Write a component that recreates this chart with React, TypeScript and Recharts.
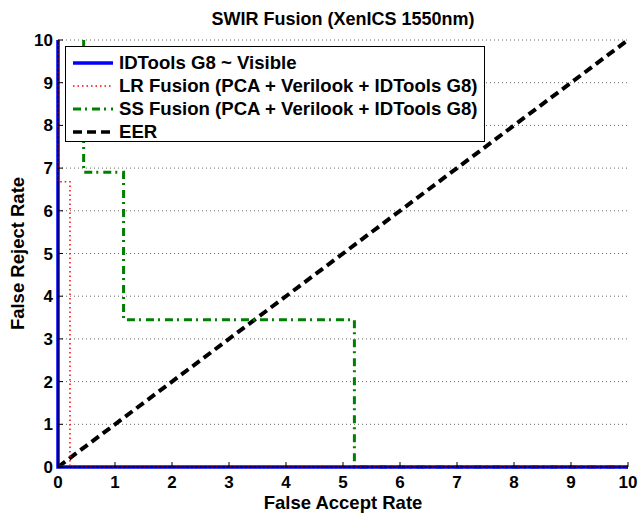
import React from "react";
import { LineChart, Line, XAxis, YAxis, CartesianGrid } from "recharts";

const ticks = [0, 1, 2, 3, 4, 5, 6, 7, 8, 9, 10];

const idtoolsVisible = [
  { x: 0, y: 10 },
  { x: 0, y: 0 },
  { x: 10, y: 0 },
];

const lrFusion = [
  { x: 0, y: 10 },
  { x: 0, y: 6.68 },
  { x: 0.21, y: 6.68 },
  { x: 0.21, y: 0 },
  { x: 10, y: 0 },
];

const ssFusion = [
  { x: 0.45, y: 10 },
  { x: 0.45, y: 6.9 },
  { x: 1.15, y: 6.9 },
  { x: 1.15, y: 3.45 },
  { x: 5.2, y: 3.45 },
  { x: 5.2, y: 0 },
  { x: 10, y: 0 },
];

const eer = [
  { x: 0, y: 0 },
  { x: 10, y: 10 },
];

const FONT = "'Liberation Sans', Arial, sans-serif";

const legendItems = [
  { name: "IDTools G8 ~ Visible", color: "#0000ff", width: 3.5, dash: undefined },
  { name: "LR Fusion (PCA + Verilook + IDTools G8)", color: "#ff0000", width: 1.5, dash: "1.5 3" },
  { name: "SS Fusion (PCA + Verilook + IDTools G8)", color: "#008000", width: 3, dash: "8 4 2 5" },
  { name: "EER", color: "#000000", width: 3.5, dash: "9 5" },
];

function LegendBox() {
  return (
    <div
      style={{
        position: "absolute",
        left: 65,
        top: 46,
        width: 420,
        height: 96,
        border: "1.5px solid #000",
        background: "#fff",
        fontFamily: FONT,
        fontWeight: "bold",
        fontSize: 18.6,
        color: "#000",
        paddingTop: 4,
        boxSizing: "border-box",
      }}
    >
      {legendItems.map((it) => (
        <div key={it.name} style={{ display: "flex", alignItems: "center", height: 23, whiteSpace: "nowrap" }}>
          <svg width={40} height={10} style={{ marginLeft: 7, marginRight: 6 }}>
            <line
              x1={0}
              y1={5}
              x2={40}
              y2={5}
              stroke={it.color}
              strokeWidth={it.width}
              strokeDasharray={it.dash}
            />
          </svg>
          <span>{it.name}</span>
        </div>
      ))}
    </div>
  );
}

const tickStyle = { fontSize: 17, fontWeight: "bold", fill: "#000", fontFamily: FONT };
const labelStyle = { fontSize: 18.5, fontWeight: "bold", fill: "#000", fontFamily: FONT };

export default function App() {
  return (
    <div style={{ position: "absolute", left: 0, top: 0, width: 638, height: 514, background: "#fff" }}>
      <div
        style={{
          position: "absolute",
          top: 9,
          left: 58,
          width: 570,
          textAlign: "center",
          fontFamily: FONT,
          fontWeight: "bold",
          fontSize: 18,
          lineHeight: "20px",
        }}
      >
        SWIR Fusion (XenICS 1550nm)
      </div>
      <LineChart width={638} height={514} margin={{ top: 40, right: 10, left: 0, bottom: 0 }}>
        <CartesianGrid xAxisId="b" yAxisId="l" vertical={false} stroke="#666" strokeDasharray="1 3" />
        <XAxis
          xAxisId="b"
          type="number"
          dataKey="x"
          domain={[0, 10]}
          ticks={ticks}
          height={47}
          stroke="#000"
          tickSize={-5}
          tickMargin={14}
          tick={tickStyle}
          label={{ value: "False Accept Rate", position: "insideBottom", offset: 5, style: labelStyle }}
        />
        <XAxis
          xAxisId="t"
          orientation="top"
          type="number"
          dataKey="x"
          domain={[0, 10]}
          ticks={ticks}
          height={0}
          stroke="#000"
          tickSize={-5}
          tickFormatter={() => ""}
        />
        <YAxis
          yAxisId="l"
          type="number"
          domain={[0, 10]}
          ticks={ticks}
          width={58}
          stroke="#000"
          tickSize={-5}
          tickMargin={10}
          tick={tickStyle}
          label={{
            value: "False Reject Rate",
            angle: -90,
            position: "insideLeft",
            offset: 17,
            style: { ...labelStyle, textAnchor: "middle" },
          }}
        />
        <YAxis
          yAxisId="r"
          orientation="right"
          type="number"
          domain={[0, 10]}
          ticks={ticks}
          width={0}
          stroke="#000"
          tickSize={-5}
          tickFormatter={() => ""}
        />
        <Line
          xAxisId="b"
          yAxisId="l"
          data={eer}
          dataKey="y"
          type="linear"
          stroke="#000"
          strokeWidth={4}
          strokeDasharray="9 5"
          dot={false}
          isAnimationActive={false}
        />
        <Line
          xAxisId="b"
          yAxisId="l"
          data={ssFusion}
          dataKey="y"
          type="linear"
          stroke="#008000"
          strokeWidth={3}
          strokeDasharray="8 4 2 5"
          dot={false}
          isAnimationActive={false}
        />
        <Line
          xAxisId="b"
          yAxisId="l"
          data={idtoolsVisible}
          dataKey="y"
          type="linear"
          stroke="#0000ff"
          strokeWidth={3.5}
          dot={false}
          isAnimationActive={false}
        />
        <Line
          xAxisId="b"
          yAxisId="l"
          data={lrFusion}
          dataKey="y"
          type="linear"
          stroke="#ff0000"
          strokeWidth={1.5}
          strokeDasharray="1.5 3"
          dot={false}
          isAnimationActive={false}
        />
      </LineChart>
      <LegendBox />
    </div>
  );
}
